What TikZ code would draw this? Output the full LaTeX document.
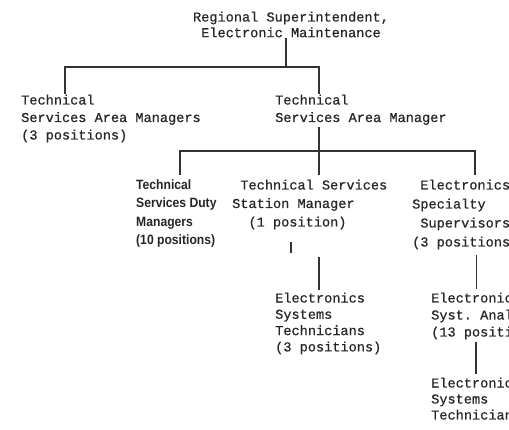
\documentclass[tikz,border=0pt]{standalone}
\usepackage{fontspec}
\setmonofont[FakeBold=0.6]{Liberation Mono}
\newfontfamily\boldsans[FakeStretch=0.9]{Liberation Sans}
\newcommand{\ch}{\hphantom{x}}
\tikzset{
  x=1pt, y=1pt,
  box/.style={inner sep=0pt, anchor=base west, align=left, text=black!85},
  mono/.style={box, font=\fontsize{13.6}{#1}\selectfont\ttfamily},
  boldbox/.style={box, font=\fontsize{13.5}{18.4}\selectfont\boldsans\bfseries},
  link/.style={draw=black!80, line width=1.1pt},
}
\begin{document}
\begin{tikzpicture}
\useasboundingbox (0,0) rectangle (509,-430);
\clip (0,0) rectangle (509,-430);
% nodes (anchor = baseline of the last line)
\node[mono=15.7, align=center, anchor=base] (top) at (291,-37.2) {Regional Superintendent,\\Electronic Maintenance};
\node[mono=17.5] (tsams) at (21,-139.5) {Technical\\Services Area Managers\\(3 positions)};
\node[mono=17.5] (tsam) at (275,-122) {Technical\\Services Area Manager};
\node[boldbox] (tsdm) at (136,-244.7) {Technical\\Services Duty\\Managers\\(10 positions)};
\node[mono=18.5] (tssm) at (232,-226.5) {\ch Technical Services\\Station Manager\\\ch\ch(1 position)};
\node[mono=19] (ess) at (412,-246.5) {\ch Electronics\\Specialty\\\ch Supervisors\\(3 positions};
\node[mono=16.3] (est) at (275,-351.4) {Electronics\\Systems\\Technicians\\(3 positions)};
\node[mono=17] (esa) at (431,-336.5) {Electronic\\Syst. Anal\\(13 positi};
\node[mono=16] (est2) at (431,-419.5) {Electronic\\Systems\\Technician};
% junction coordinates
\coordinate (a0) at (286,-38);
\coordinate (a1) at (286,-67);
\coordinate (aL) at (65,-67);
\coordinate (aR) at (319,-67);
\coordinate (aLd) at (65,-94);
\coordinate (aRd) at (319,-94);
\coordinate (b0) at (319,-127);
\coordinate (b1) at (319,-151);
\coordinate (bL) at (180,-151);
\coordinate (bR) at (475,-151);
\coordinate (bLd) at (180,-175);
\coordinate (bMd) at (319,-175);
\coordinate (bRd) at (475,-175);
\coordinate (c0) at (291,-242);
\coordinate (c1) at (291,-253);
\coordinate (d0) at (319,-257);
\coordinate (d1) at (319,-290);
\coordinate (e0) at (476.5,-255);
\coordinate (e1) at (476.5,-289);
\coordinate (f0) at (476,-342);
\coordinate (f1) at (476,-374);
% connectors
\draw[link] (a0) -- (a1);
\draw[link] (aLd) -- (aL) -- (aR) -- (aRd);
\draw[link] (b0) -- (bMd);
\draw[link] (bLd) -- (bL) -- (bR) -- (bRd);
\draw[link] (c0) -- (c1);
\draw[link] (d0) -- (d1);
\draw[link] (e0) -- (e1);
\draw[link] (f0) -- (f1);
\end{tikzpicture}
\end{document}
